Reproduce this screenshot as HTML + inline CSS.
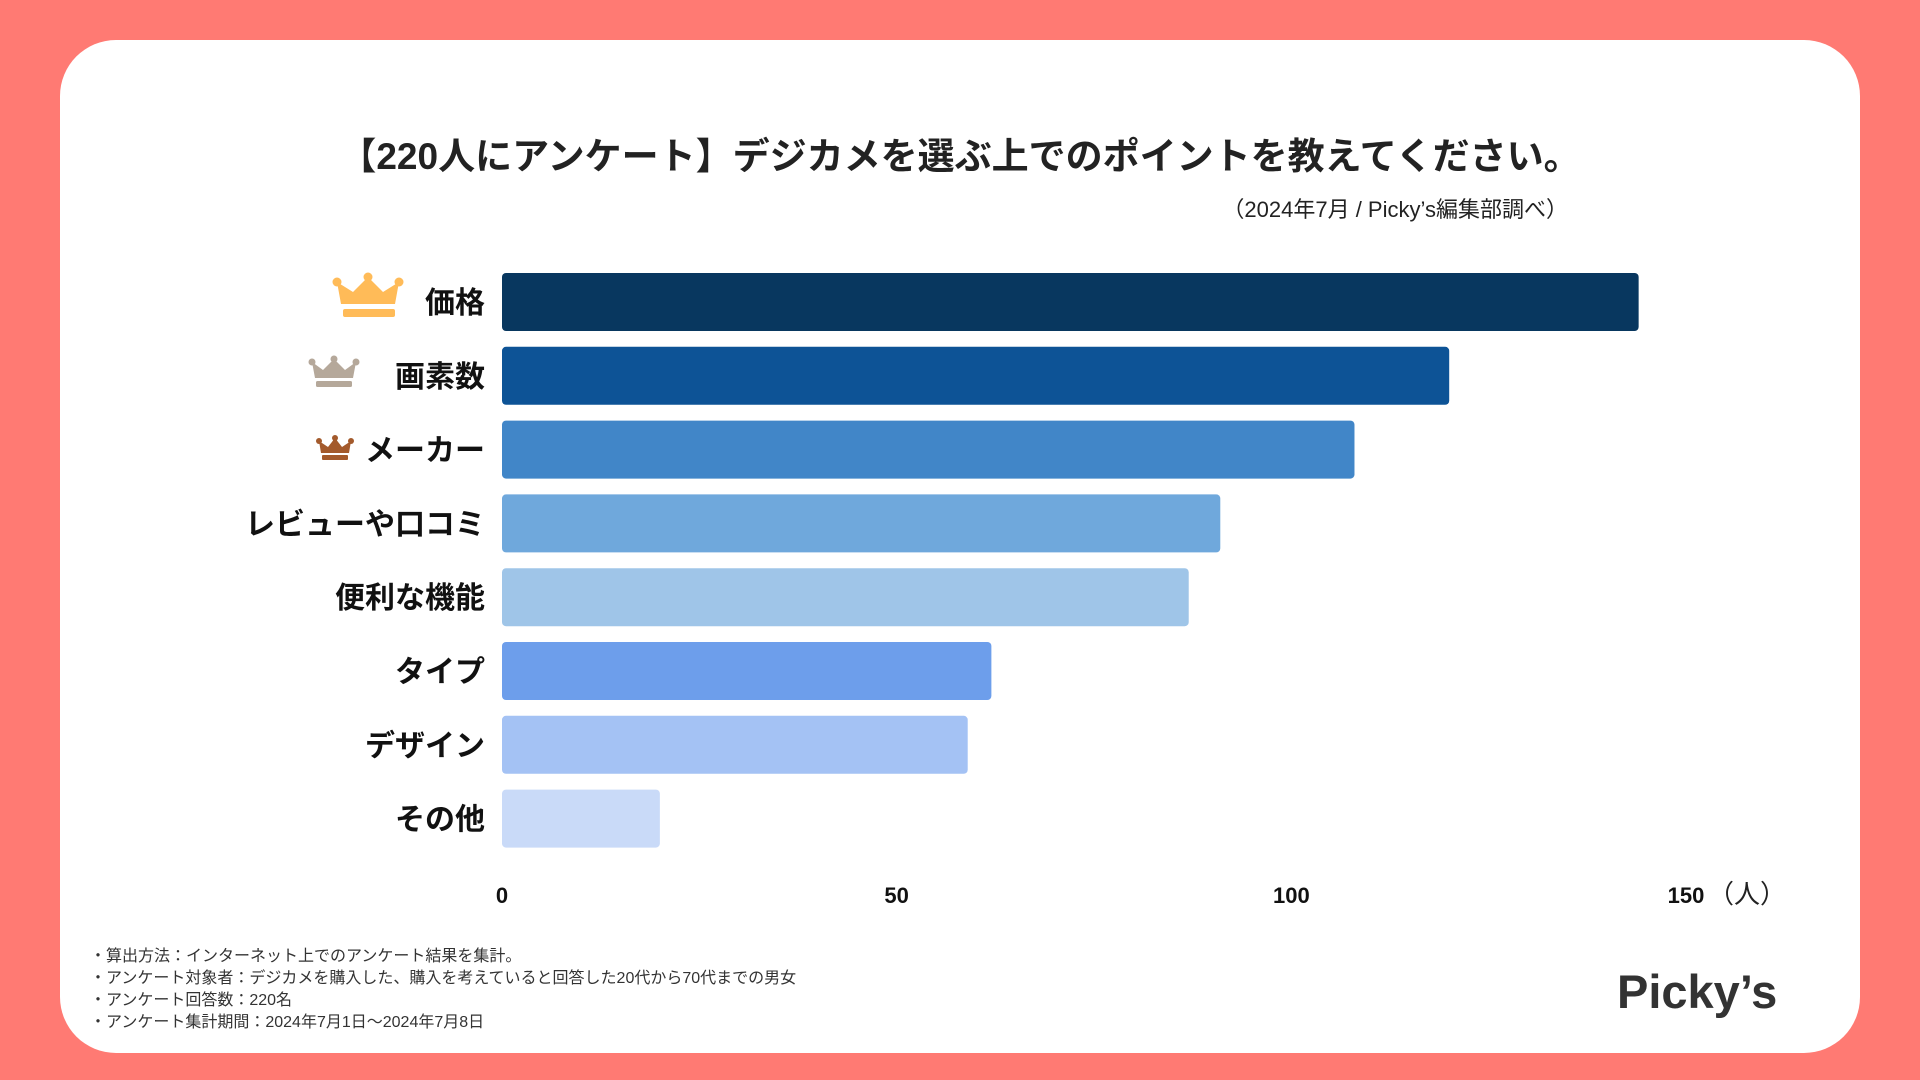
<!DOCTYPE html>
<html><head><meta charset="utf-8">
<style>
html,body{margin:0;padding:0;}
body{width:1920px;height:1080px;background:#FF7A73;position:relative;overflow:hidden;font-family:"Liberation Sans","Noto Sans CJK JP",sans-serif;}
#card{position:absolute;left:60px;top:40px;width:1800px;height:1013px;background:#fff;border-radius:56px;}
.t{position:absolute;white-space:nowrap;color:#222;}
</style></head>
<body>
<div id="card"></div>
<div class="t" style="left:0;width:1920px;text-align:center;top:126px;font-size:37px;font-weight:bold;">【220人にアンケート】デジカメを選ぶ上でのポイントを教えてください。</div>
<div class="t" style="right:352px;top:192px;font-size:22px;">（2024年7月 / Picky’s編集部調べ）</div>
<svg id="chart" width="1920" height="1080" style="position:absolute;left:0;top:0;">
<g id="crowns">
 <g fill="#FFBB58">
  <path d="M341,304 L337,282 L353,292 L368,277 L383,292 L399,282 L395,304 Z"/>
  <circle cx="337" cy="282" r="4.5"/><circle cx="368" cy="277" r="4.5"/><circle cx="399" cy="282" r="4.5"/>
  <rect x="343" y="309" width="52" height="8" rx="2"/>
 </g>
 <g fill="#B5A89A">
  <path d="M315,378 L312,362 L323,370 L334,359 L345,370 L356,362 L353,378 Z"/>
  <circle cx="312" cy="362" r="3.5"/><circle cx="334" cy="359" r="3.5"/><circle cx="356" cy="362" r="3.5"/>
  <rect x="316" y="381" width="36" height="6" rx="1.5"/>
 </g>
 <g fill="#A35A2C">
  <path d="M321,453 L319,441 L328,447 L335,438 L342,447 L351,441 L349,453 Z"/>
  <circle cx="319" cy="441" r="3"/><circle cx="335" cy="438" r="3"/><circle cx="351" cy="441" r="3"/>
  <rect x="322" y="455" width="26" height="5" rx="1"/>
 </g>
</g>
</svg>
<div class="t" style="left:90px;top:946px;font-size:16px;line-height:22px;color:#333;">・算出方法：インターネット上でのアンケート結果を集計。<br>・アンケート対象者：デジカメを購入した、購入を考えていると回答した20代から70代までの男女<br>・アンケート回答数：220名<br>・アンケート集計期間：2024年7月1日〜2024年7月8日</div>
<div class="t" style="left:1617px;top:964px;font-size:47px;font-weight:bold;color:#333;">Picky’s</div>
<script>
const categories=["価格","画素数","メーカー","レビューや口コミ","便利な機能","タイプ","デザイン","その他"];
const values=[144,120,108,91,87,62,59,20];
const tickValues=[0,50,100,150];
const tickLabels=["0","50","100","150"];
const colors=["#08375F","#0D5396","#4186C8","#6FA8DC","#9FC5E8","#6D9EEB","#A4C2F4","#C9DAF8"];
const NS="http://www.w3.org/2000/svg";
const svg=document.getElementById('chart');
const x0=502, pxPer=(1686-502)/150;
function xs(v){return x0+v*pxPer;}
function ys(i){return 273+i*73.8;}
const bh=58;
categories.forEach((c,i)=>{
 const r=document.createElementNS(NS,'rect');
 
 
 r.setAttribute('x',xs(0));r.setAttribute('y',ys(i));
 r.setAttribute('width',xs(values[i])-xs(0));r.setAttribute('height',bh);
 r.setAttribute('rx',4);r.setAttribute('fill',colors[i]);
 svg.appendChild(r);
 const t=document.createElementNS(NS,'text');
 
 
 t.setAttribute('x',485);t.setAttribute('y',ys(i)+bh/2+11);
 t.setAttribute('text-anchor','end');t.setAttribute('font-size','30');
 t.setAttribute('font-weight','bold');t.setAttribute('fill','#111');
 t.textContent=c;svg.appendChild(t);
});
tickValues.forEach((v,i)=>{
 const t=document.createElementNS(NS,'text');
 
 
 t.setAttribute('x',xs(v));t.setAttribute('y',903);
 t.setAttribute('text-anchor','middle');t.setAttribute('font-size','22');
 t.setAttribute('font-weight','bold');t.setAttribute('fill','#111');
 t.textContent=tickLabels[i];svg.appendChild(t);
});
const u=document.createElementNS(NS,'text');


u.setAttribute('x',xs(150)+22);u.setAttribute('y',903);
u.setAttribute('font-size','26');u.setAttribute('fill','#222');
u.textContent='（人）';svg.appendChild(u);
</script>
</body></html>
